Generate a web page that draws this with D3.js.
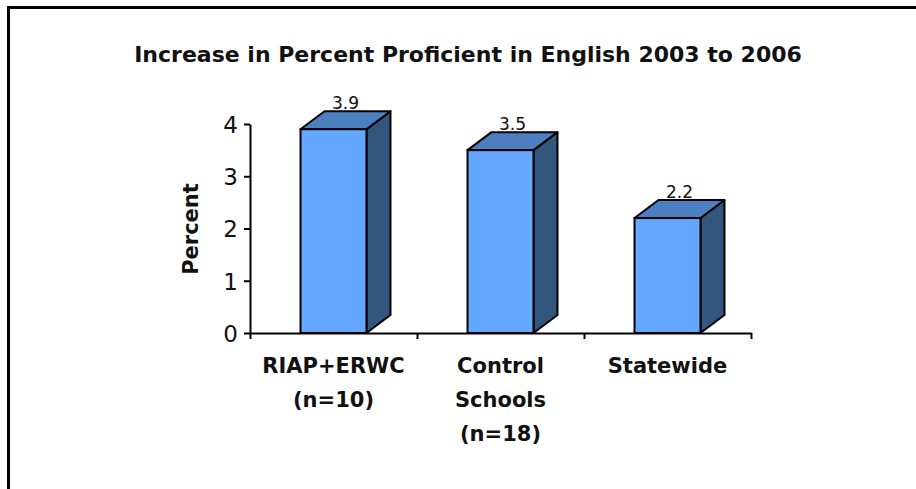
<!DOCTYPE html>
<html>
<head>
<meta charset="utf-8">
<script src="https://cdn.jsdelivr.net/npm/d3@7"></script>
<style>
  body { margin: 0; background: #fff; }
  text { font-family: "DejaVu Sans", sans-serif; fill: #111; }
</style>
</head>
<body>
<svg id="chart"></svg>
<script>
// data
var categories = ["RIAP+ERWC", "Control Schools", "Statewide"];
var catLines = [["RIAP+ERWC", "(n=10)"], ["Control", "Schools", "(n=18)"], ["Statewide"]];
var values = [3.9, 3.5, 2.2];
var yTicks = [0, 1, 2, 3, 4];
var title = "Increase in Percent Proficient in English 2003 to 2006";

var width = 916, height = 489;
var x0 = 250, x1 = 751, yBase = 333, yTop = 124;
var depth = [24, 18]; // 3d offset

var svg = d3.select("#chart").attr("width", width).attr("height", height);
svg.append("rect").attr("width", width).attr("height", height).attr("fill", "#fff");

// frame (left + top only)
svg.append("path")
  .attr("d", "M8.5," + height + "V7.5H" + width)
  .attr("fill", "none").attr("stroke", "#000").attr("stroke-width", 3);

svg.append("text")
  .attr("x", 468).attr("y", 62)
  .attr("text-anchor", "middle")
  .attr("font-size", 22).attr("font-weight", "bold")
  .text(title);

var y = d3.scaleLinear().domain([0, 4]).range([yBase, yTop]);
var x = d3.scaleBand().domain(categories).range([x0, x1]).paddingInner(0.605).paddingOuter(0.3025);
var xi = d3.scaleLinear().domain([0, categories.length]).range([x0, x1]);

// y axis
var gy = svg.append("g").attr("transform", "translate(" + x0 + ",0)")
  .call(d3.axisLeft(y).tickValues(yTicks).tickFormat(d3.format("d")).tickSize(6).tickPadding(6).tickSizeOuter(0));
gy.selectAll("path, line").attr("stroke", "#000").attr("stroke-width", 2);
gy.selectAll("text").attr("font-size", 23).attr("font-family", "Liberation Sans, sans-serif")
  .attr("fill", "#222").attr("dy", "0.36em");

// x axis (ticks between categories)
var gx = svg.append("g").attr("transform", "translate(0," + yBase + ")")
  .call(d3.axisBottom(xi).tickValues(d3.range(categories.length + 1)).tickFormat("").tickSize(6).tickSizeOuter(0));
gx.selectAll("path, line").attr("stroke", "#000").attr("stroke-width", 2);

// 3d bars
var bars = svg.append("g").selectAll("g").data(values).enter().append("g");
var dx = depth[0], dy = depth[1];
function bx(d, i) { return x(categories[i]); }
var bw = x.bandwidth();

bars.append("path") // side
  .attr("d", function(d, i) {
    var l = bx(d, i) + bw, t = y(d);
    return "M" + l + "," + yBase + "L" + (l + dx) + "," + (yBase - dy) + "L" + (l + dx) + "," + (t - dy) + "L" + l + "," + t + "Z";
  })
  .attr("fill", "#33567F").attr("stroke", "#000").attr("stroke-width", 2).attr("stroke-linejoin", "round");
bars.append("path") // top
  .attr("d", function(d, i) {
    var l = bx(d, i), t = y(d);
    return "M" + l + "," + t + "L" + (l + dx) + "," + (t - dy) + "L" + (l + bw + dx) + "," + (t - dy) + "L" + (l + bw) + "," + t + "Z";
  })
  .attr("fill", "#4B7FC1").attr("stroke", "#000").attr("stroke-width", 2).attr("stroke-linejoin", "round");
bars.append("rect") // front
  .attr("x", function(d, i) { return bx(d, i); })
  .attr("y", function(d) { return y(d); })
  .attr("width", bw)
  .attr("height", function(d) { return yBase - y(d); })
  .attr("fill", "#63A7FE").attr("stroke", "#000").attr("stroke-width", 2);

// value labels
bars.append("text")
  .attr("x", function(d, i) { return bx(d, i) + bw / 2 + dx / 2; })
  .attr("y", function(d) { return y(d) - dy - 2; })
  .attr("text-anchor", "middle")
  .attr("font-size", 17)
  .text(function(d) { return d3.format(".1f")(d); });

// category labels
var cl = svg.append("g").selectAll("text").data(catLines).enter().append("text")
  .attr("text-anchor", "middle")
  .attr("font-size", 21).attr("font-weight", "bold");
cl.selectAll("tspan").data(function(d, i) { return d.map(function(s) { return { s: s, i: i }; }); })
  .enter().append("tspan")
  .attr("x", function(d) { return x(categories[d.i]) + bw / 2; })
  .attr("y", function(d, j) { return 373 + j * 34; })
  .text(function(d) { return d.s; });

// y label
svg.append("text")
  .attr("transform", "translate(198,229) rotate(-90)")
  .attr("text-anchor", "middle")
  .attr("font-size", 21).attr("font-weight", "bold")
  .text("Percent");
</script>
</body>
</html>
